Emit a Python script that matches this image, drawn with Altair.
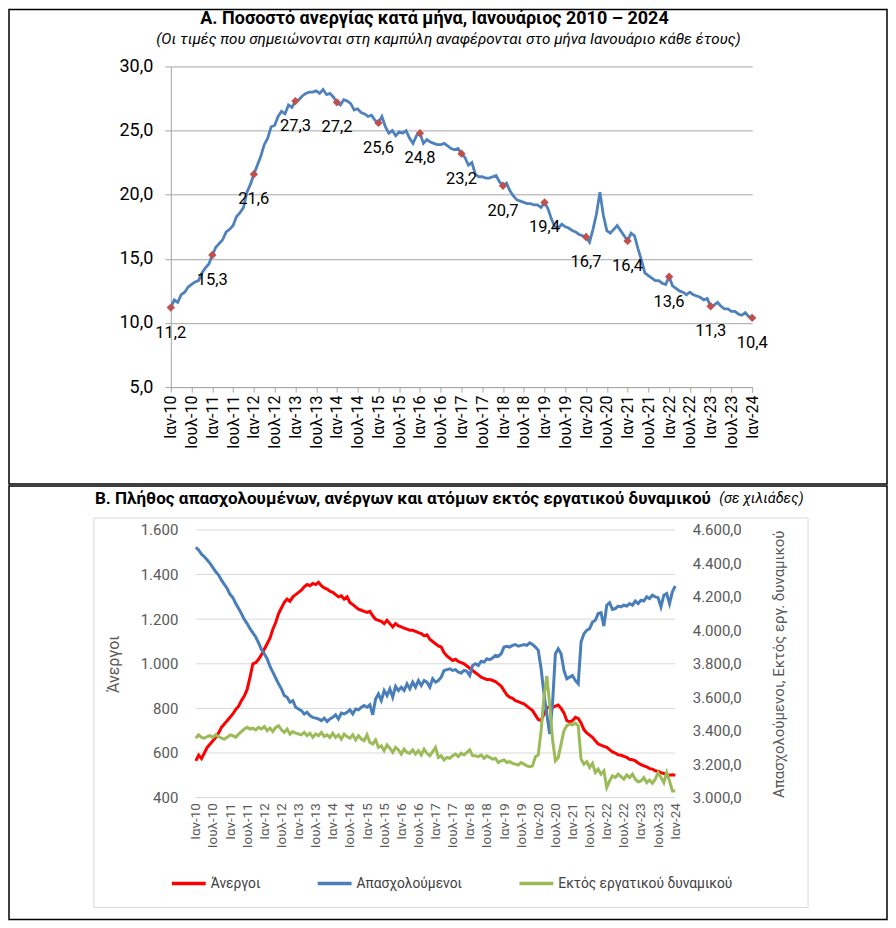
import json
import altair as alt
import pandas as pd

FONT = "Roboto"

# ---------------- data ----------------
tick_months = [0, 6, 12, 18, 24, 30, 36, 42, 48, 54, 60, 66, 72, 78, 84, 90, 96,
               102, 108, 114, 120, 126, 132, 138, 144, 150, 156, 162, 168]
tick_labels = ["Ιαν-10", "Ιουλ-10", "Ιαν-11", "Ιουλ-11", "Ιαν-12", "Ιουλ-12",
               "Ιαν-13", "Ιουλ-13", "Ιαν-14", "Ιουλ-14", "Ιαν-15", "Ιουλ-15",
               "Ιαν-16", "Ιουλ-16", "Ιαν-17", "Ιουλ-17", "Ιαν-18", "Ιουλ-18",
               "Ιαν-19", "Ιουλ-19", "Ιαν-20", "Ιουλ-20", "Ιαν-21", "Ιουλ-21",
               "Ιαν-22", "Ιουλ-22", "Ιαν-23", "Ιουλ-23", "Ιαν-24"]

# Panel A: unemployment rate (%), monthly Jan 2010 - Jan 2024
rate = [
    11.2, 11.8, 11.6, 12.2, 12.4, 12.8, 13.0, 13.2, 13.3, 13.9, 14.3, 14.6,
    15.3, 15.9, 16.2, 16.5, 17.1, 17.3, 17.6, 18.3, 18.6, 19.0, 20.2, 20.8,
    21.6, 22.3, 23.0, 23.9, 24.4, 25.3, 25.4, 26.1, 26.5, 26.3, 27.0, 26.8,
    27.3, 27.4, 27.7, 27.9, 28.0, 28.0, 28.1, 27.9, 28.2, 27.8, 27.9, 27.6,
    27.2, 27.0, 27.4, 27.3, 27.1, 26.6, 26.7, 26.4, 26.3, 26.1, 26.2, 25.8,
    25.6, 26.1, 25.3, 24.8, 25.0, 24.6, 24.9, 24.8, 25.0, 24.4, 24.0, 24.6,
    24.8, 24.0, 24.3, 24.1, 24.0, 23.9, 23.9, 24.0, 23.8, 23.6, 23.5, 23.6,
    23.2, 22.9, 22.3, 22.5, 21.6, 21.4, 21.4, 21.3, 21.3, 21.4, 21.5, 21.0,
    20.7, 20.9, 20.3, 19.9, 19.6, 19.5, 19.4, 19.3, 19.3, 19.2, 19.2, 19.0,
    19.4, 18.9, 18.1, 17.5, 17.4, 17.7, 17.5, 17.4, 17.2, 17.1, 16.9, 16.8,
    16.7, 16.3, 17.3, 18.5, 20.2, 18.4, 17.2, 17.0, 17.3, 17.6, 17.2, 16.8,
    16.4, 17.0, 16.8, 15.8, 14.9, 13.9, 13.7, 13.5, 13.3, 13.3, 13.1, 13.0,
    13.6, 12.9, 12.7, 12.5, 12.4, 12.2, 12.4, 12.2, 12.1, 12.0, 11.8, 11.9,
    11.3, 11.4, 11.6, 11.3, 11.1, 11.1, 10.9, 10.9, 10.7, 10.6, 10.8, 10.5,
    10.4,
]

# Panel B (thousands)
unemployed = [
    565, 590, 575, 600, 625, 640, 655, 670, 690, 715, 730, 745,
    760, 775, 795, 810, 835, 855, 885, 940, 1000, 1005, 1020, 1040,
    1065, 1090, 1115, 1155, 1185, 1225, 1250, 1275, 1290, 1280, 1300, 1310,
    1320, 1330, 1345, 1355, 1350, 1360, 1355, 1365, 1350, 1340, 1335, 1325,
    1320, 1310, 1300, 1305, 1290, 1300, 1275, 1265, 1255, 1245, 1240, 1235,
    1230, 1235, 1215, 1200, 1195, 1190, 1180, 1195, 1180, 1165, 1180, 1170,
    1165, 1160, 1155, 1150, 1150, 1145, 1140, 1135, 1125, 1130, 1110, 1100,
    1090, 1080, 1075, 1050, 1035, 1025, 1015, 1020, 1010, 1005, 1000, 990,
    980, 970, 960, 950, 940, 935, 930, 930, 925, 920, 910, 900,
    880, 860, 850, 845, 835, 830, 825, 820, 810, 800, 790, 770,
    750, 745, 775, 800, 810, 805, 810, 815, 800, 780, 745, 740,
    745, 760, 755, 735, 705, 690, 680, 670, 655, 640, 635, 630,
    625, 615, 605, 600, 592, 590, 585, 580, 572, 570, 565, 555,
    548, 542, 538, 530, 528, 520, 518, 512, 508, 505, 500, 502,
    500,
]
employed = [
    4495, 4480, 4455, 4440, 4420, 4400, 4375, 4350, 4330, 4300, 4275, 4250,
    4215, 4195, 4160, 4130, 4100, 4065, 4040, 4010, 3985, 3960, 3925, 3885,
    3860, 3830, 3785, 3750, 3715, 3680, 3650, 3610, 3600, 3570, 3580, 3540,
    3530, 3520, 3500, 3510, 3490, 3480, 3475, 3470, 3460, 3475, 3455, 3470,
    3480, 3495, 3470, 3505, 3500, 3510, 3525, 3500, 3530, 3525, 3540, 3550,
    3540, 3555, 3495, 3590, 3620, 3580, 3640, 3610, 3650, 3600, 3665, 3640,
    3660, 3640, 3680, 3650, 3690, 3660, 3700, 3670, 3700, 3690, 3660, 3710,
    3690, 3700, 3720, 3760, 3765, 3770, 3760, 3765, 3750, 3745, 3760, 3755,
    3730, 3790, 3800, 3790, 3815, 3810, 3830, 3825, 3835, 3850, 3845, 3860,
    3900, 3905, 3900, 3910, 3915, 3905, 3910, 3915, 3910, 3925, 3915, 3900,
    3880, 3770, 3620, 3500, 3380, 3560, 3860, 3890, 3860, 3760, 3710, 3720,
    3730, 3700, 3680, 3930, 3980, 4000, 4010, 4050, 4060, 4100, 4105, 4025,
    4150, 4165, 4125, 4130, 4145, 4140, 4150, 4145, 4160, 4150, 4175, 4160,
    4180, 4175, 4200, 4190, 4210, 4200, 4195, 4140, 4210, 4220, 4160, 4230,
    4265,
]
inactive = [
    3355, 3375, 3360, 3355, 3365, 3370, 3360, 3375, 3365, 3355, 3350, 3360,
    3375, 3370, 3360, 3380, 3395, 3410, 3420, 3410, 3415, 3405, 3420, 3410,
    3425, 3400, 3415, 3395, 3420, 3430, 3405, 3390, 3410, 3380, 3395, 3385,
    3380, 3375, 3390, 3370, 3385, 3360, 3380, 3370, 3390, 3365, 3375, 3360,
    3385, 3360, 3375, 3350, 3380, 3365, 3355, 3375, 3345, 3370, 3350, 3340,
    3375, 3330, 3320, 3345, 3300, 3310, 3280, 3315, 3295, 3270, 3300, 3285,
    3260, 3290, 3270, 3265, 3285, 3260, 3280, 3255, 3290, 3265, 3250, 3275,
    3300, 3240, 3250, 3225, 3240, 3235, 3250, 3260, 3245, 3265, 3255, 3270,
    3285, 3250, 3250, 3245, 3255, 3235, 3250, 3240, 3230, 3235, 3210, 3220,
    3225, 3210, 3215, 3205, 3200, 3195, 3210, 3200, 3190, 3185, 3190, 3245,
    3255, 3400, 3600, 3727, 3560, 3350, 3220, 3240, 3320, 3400, 3430, 3440,
    3435, 3445, 3430, 3230, 3200, 3215, 3180, 3205, 3150, 3170, 3140, 3160,
    3060, 3100, 3130, 3120, 3140, 3125, 3110, 3135, 3120, 3140, 3110, 3095,
    3100, 3120, 3090, 3105, 3085, 3110, 3149, 3120, 3090, 3150, 3100, 3040,
    3040,
]
series_names = ["Άνεργοι", "Απασχολούμενοι", "Εκτός εργατικού δυναμικού"]
series_colors = ["#FF0000", "#4A7EBB", "#9BBB59"]
left_ticks = [400, 600, 800, 1000, 1200, 1400, 1600]
right_ticks = [3000, 3200, 3400, 3600, 3800, 4000, 4200, 4400, 4600]
rate_ticks = [5, 10, 15, 20, 25, 30]

title_a = "Α. Ποσοστό ανεργίας κατά μήνα, Ιανουάριος 2010 – 2024"
subtitle_a = "(Οι τιμές που σημειώνονται στη καμπύλη αναφέρονται στο μήνα Ιανουάριο κάθε έτους)"
title_b = "Β. Πλήθος απασχολουμένων, ανέργων και ατόμων εκτός εργατικού δυναμικού"
note_b = "(σε χιλιάδες)"

months = list(range(len(rate)))

# ---------------- tables ----------------
dfA = pd.DataFrame({"m": months, "rate": rate})
dfJan = dfA[dfA["m"] % 12 == 0].copy()
dfJan["label"] = [f"{v:.1f}".replace(".", ",") for v in dfJan["rate"]]

dfB = pd.concat([
    pd.DataFrame({"m": months, "value": unemployed, "series": series_names[0]}),
    pd.DataFrame({"m": months, "value": employed, "series": series_names[1]}),
    pd.DataFrame({"m": months, "value": inactive, "series": series_names[2]}),
], ignore_index=True)
dfGrid = pd.DataFrame({"g": left_ticks, "x0": months[0], "x1": months[-1]})

one = pd.DataFrame({"z": [0]})
label_expr = json.dumps(tick_labels, ensure_ascii=False) + "[round(datum.value/6)]"


def frame(x, x2, y, y2, color="black", width=1.5):
    return alt.Chart(one).mark_rect(fillOpacity=0, stroke=color, strokeWidth=width).encode(
        x=alt.value(x), x2=alt.value(x2), y=alt.value(y), y2=alt.value(y2))


def label(text, x, y, size, weight="normal", style="normal", align="center"):
    return alt.Chart(pd.DataFrame({"t": [text]})).mark_text(
        align=align, baseline="middle", fontSize=size, fontWeight=weight,
        fontStyle=style, color="black").encode(
        text="t:N", x=alt.value(x), y=alt.value(y))


# ---------------- Panel A ----------------
xA = alt.X("m:Q", scale=alt.Scale(domain=[0, 168], nice=False, zero=False),
           axis=alt.Axis(values=tick_months, tickCount=len(tick_months),
                         labelExpr=label_expr, labelAngle=270,
                         labelOverlap=False, title=None, grid=False,
                         domainColor="#A6A6A6", tickColor="#A6A6A6", tickSize=5,
                         labelFontSize=16, labelColor="black", labelPadding=3))
yA = alt.Y("rate:Q", scale=alt.Scale(domain=[5, 30], nice=False, zero=False),
           axis=alt.Axis(values=rate_ticks, tickCount=len(rate_ticks),
                         labelExpr="replace(format(datum.value, '.1f'), '.', ',')",
                         title=None, gridColor="#A6A6A6", domainColor="#A6A6A6",
                         tickColor="#A6A6A6", tickSize=6, labelPadding=12,
                         labelFontSize=18, labelColor="black"))

lineA = alt.Chart(dfA).mark_line(color="#4F81BD", strokeWidth=2.8).encode(x=xA, y=yA)
ptsA = alt.Chart(dfJan).mark_point(shape="diamond", filled=True, size=70,
                                   color="#C0504D", opacity=1).encode(x="m:Q", y="rate:Q")
txtA = alt.Chart(dfJan).mark_text(dy=25, fontSize=16.5, color="black").encode(
    x="m:Q", y="rate:Q", text="label:N")

panelA = alt.layer(
    frame(-162, 717, -57, 418),
    label(title_a, 264, -48, 18, weight="bold"),
    label(subtitle_a, 278, -27, 15.2, style="italic"),
    lineA, ptsA, txtA,
).properties(width=582, height=321)

# ---------------- Panel B ----------------
xB = alt.X("m:Q", scale=alt.Scale(domain=[0, 168], range=[25, 505], nice=False, zero=False),
           axis=alt.Axis(values=tick_months, tickCount=len(tick_months),
                         labelExpr=label_expr, labelAngle=270,
                         labelOverlap=False, title=None, grid=False, domain=False,
                         ticks=False, labelFontSize=13.5, labelColor="#595959",
                         labelPadding=5))
color = alt.Color("series:N",
                  scale=alt.Scale(domain=series_names, range=series_colors),
                  legend=alt.Legend(orient="none", legendX=-1, legendY=799,
                                    direction="horizontal", title=None,
                                    symbolType="stroke", symbolSize=1150,
                                    symbolStrokeWidth=3.5, labelFontSize=13.8,
                                    labelColor="#404040", columnPadding=50,
                                    labelOffset=3, labelLimit=400))

gridB = alt.Chart(dfGrid).mark_rule(color="#D9D9D9", strokeWidth=1).encode(
    x="x0:Q", x2="x1:Q",
    y=alt.Y("g:Q", scale=alt.Scale(domain=[400, 1600], nice=False, zero=False), axis=None))

redB = alt.Chart(dfB[dfB["series"] == series_names[0]]).mark_line(strokeWidth=3).encode(
    x=xB,
    y=alt.Y("value:Q", scale=alt.Scale(domain=[400, 1600], nice=False, zero=False),
            axis=alt.Axis(orient="left", offset=-25, values=left_ticks,
                          tickCount=len(left_ticks),
                          labelExpr="replace(format(datum.value, ','), ',', '.')",
                          grid=False, domain=False, ticks=False,
                          labelColor="#595959", labelFontSize=15, labelPadding=18,
                          title="Άνεργοι", titleFontSize=16, titleFontWeight="normal",
                          titleColor="#595959", titlePadding=19)),
    color=color)
rightB = alt.Chart(dfB[dfB["series"] != series_names[0]]).mark_line(strokeWidth=3).encode(
    x=xB,
    y=alt.Y("value:Q", scale=alt.Scale(domain=[3000, 4600], nice=False, zero=False),
            axis=alt.Axis(orient="right", values=right_ticks, tickCount=len(right_ticks),
                          labelExpr="replace(replace(replace(format(datum.value, ',.1f'), ',', '#'), '.', ','), '#', '.')",
                          grid=False, domain=False, ticks=False,
                          labelColor="#595959", labelFontSize=15, labelPadding=17,
                          title="Απασχολούμενοι, Εκτός εργ. δυναμικού",
                          titleAngle=270, titleBaseline="top", titleFontSize=15,
                          titleFontWeight="normal", titleColor="#595959", titlePadding=30)),
    color=color,
    detail="series:N")

panelB = alt.layer(
    frame(-162, 717, -44, 390),
    frame(-77, 638, -12, 378, color="#D9D9D9", width=1),
    label(title_b, -76, -31, 17.1, weight="bold", align="left"),
    label(note_b, 549, -31, 14.5, style="italic", align="left"),
    gridB, redB, rightB,
).resolve_scale(y="independent").properties(width=505, height=268)

chart = alt.vconcat(panelA, panelB, spacing=0).properties(padding=0).configure_view(
    strokeWidth=0).configure_axis(labelFont=FONT, titleFont=FONT).configure_legend(
    labelFont=FONT).configure_text(font=FONT)

chart.save("out.html", embed_options={"renderer": "svg", "actions": False})
